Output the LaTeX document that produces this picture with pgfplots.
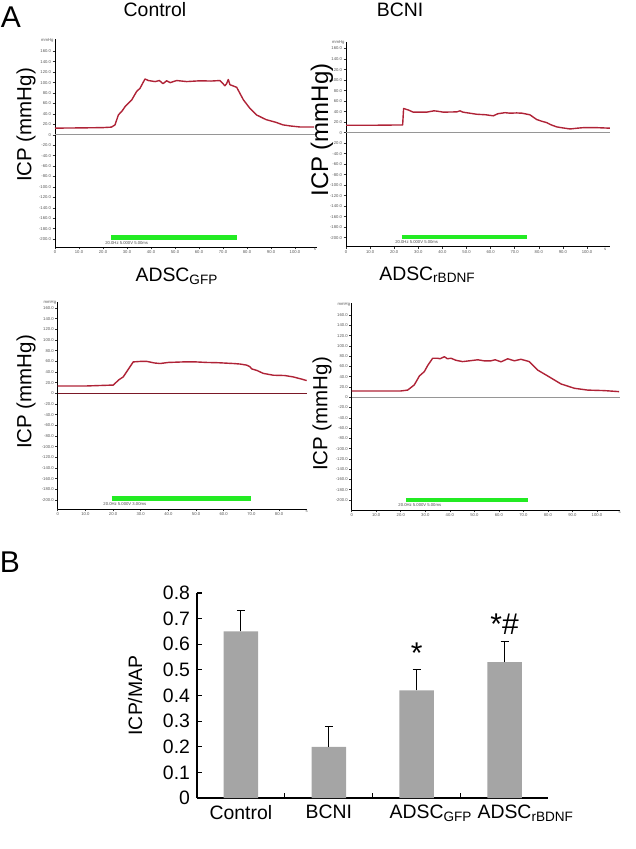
\documentclass[border=0pt]{standalone}
\usepackage{fontspec}
\setmainfont{Liberation Sans}
\usepackage{pgfplots}
\pgfplotsset{compat=1.18}

\definecolor{icpred}{RGB}{175,35,55}
\definecolor{stimgreen}{RGB}{35,235,35}
\definecolor{zerogray}{RGB}{150,150,150}
\definecolor{bargray}{RGB}{165,165,165}

\newcommand{\tinyfont}{\fontsize{2.1bp}{2.5bp}\selectfont}
\newcommand{\titlefont}{\fontsize{9.7bp}{11bp}\selectfont}

\pgfplotsset{
  /pgf/number format/assume math mode=true,
  icp/.style={
    scale only axis, clip=false,
    axis x line=bottom, axis y line=left,
    axis line style={-, black, line width=0.45bp},
    tick align=outside, major tick length=1.2bp,
    every tick/.style={black!80, line width=0.3bp},
    ytick={-200,-180,...,160},
    yticklabels={-200.0,-180.0,-160.0,-140.0,-120.0,-100.0,-80.0,-60.0,-40.0,-20.0,0,20.0,40.0,60.0,80.0,100.0,120.0,140.0,160.0},
    ticklabel style={font=\tinyfont, text=black!65, inner sep=0.6bp},
  },
  icpcurve/.style={icpred, line width=0.7bp, line join=round},
  zeroline/.style={zerogray, line width=0.6bp},
  stim/.style={stimgreen, line width=2.2bp},
}

\begin{document}
\begin{tikzpicture}
\useasboundingbox (0,0) rectangle (318bp,-424.5bp);

% ---------------- Panel A: Control
\begin{axis}[icp, at={(27.5bp,-123.5bp)}, anchor=south west,
  width=130.8bp, height=103.85bp,
  xmin=0, xmax=109, ymin=-215, ymax=183,
  xtick={0,10,...,100},
  xticklabels={0,10.0,20.0,30.0,40.0,50.0,60.0,70.0,80.0,90.0,100.0}]
\addplot[zeroline] coordinates {(0,0) (109,0)};
\addplot[icpcurve] coordinates {(0,12.8) (10,13.2) (20,13.8) (23.5,14.7) (25,19) (26.4,38) (28,46) (29.2,54) (32,67) (34,83) (35.4,89) (37.5,107) (38.9,104) (41.7,102) (43.5,104) (45,98) (46.5,103.5) (48,100) (50.7,104) (54.9,102) (60.4,103.5) (65,103) (68.75,104) (70.8,94) (71.5,98) (72.2,106) (72.9,96) (75.7,91) (78.5,67) (81,52) (84,38) (88,29) (92,24) (95,19) (98,17) (102,15) (108,15)};
\addplot[stim] coordinates {(23.3,-197) (76,-197)};
\node[font=\tinyfont, text=black!70, anchor=west, inner sep=0pt] at (axis cs:20.8,-207) {20.0Hz 5.000V 5.00ms};
\node[font=\tinyfont, text=black!65, anchor=east, inner sep=0.6bp] at (axis cs:0,180) {mmHg};
\node[font=\tinyfont, text=black!65, anchor=north, inner sep=0.6bp] at (axis cs:108.3,-215) {s};
\end{axis}

% ---------------- Panel A: BCNI
\begin{axis}[icp, at={(173bp,-123.35bp)}, anchor=south west,
  width=131.95bp, height=102.5bp,
  xmin=0, xmax=109.5, ymin=-217, ymax=173,
  xtick={0,10,...,100},
  xticklabels={0,10.0,20.0,30.0,40.0,50.0,60.0,70.0,80.0,90.0,100.0}]
\addplot[zeroline] coordinates {(0,0) (109.5,0)};
\addplot[icpcurve] coordinates {(0,14) (10,14) (20,14.5) (23.5,14.5) (23.9,46) (25.9,43) (27.9,39) (33.5,39) (36.5,41.5) (37.6,41) (40.4,39) (46,39.5) (47.3,41.5) (48.5,39) (54.2,35) (58,34) (61.1,32) (63,36) (66,38) (68,37) (70.8,37.5) (73,37) (76.3,34) (79.1,25) (81,22) (83.3,19) (85,15) (87.4,11) (90,9) (93,7) (96,8.5) (98.5,9.5) (104,9.5) (109.5,8.5)};
\addplot[stim] coordinates {(23.1,-198) (75.2,-198)};
\node[font=\tinyfont, text=black!70, anchor=west, inner sep=0pt] at (axis cs:20.3,-207.6) {20.0Hz 5.000V 5.00ms};
\node[font=\tinyfont, text=black!65, anchor=east, inner sep=0.6bp] at (axis cs:0,171) {mmHg};
\node[font=\tinyfont, text=black!65, anchor=north, inner sep=0.6bp] at (axis cs:107.5,-217) {s};
\end{axis}

% ---------------- Panel A: ADSC GFP
\begin{axis}[icp, at={(28.85bp,-254.5bp)}, anchor=south west,
  width=124.5bp, height=103.65bp,
  xmin=0, xmax=90, ymin=-217, ymax=172,
  xtick={0,10,...,80},
  xticklabels={0,10.0,20.0,30.0,40.0,50.0,60.0,70.0,80.0}]
\addplot[zeroline, draw=icpred!70!black] coordinates {(0,0) (90,0)};
\addplot[icpcurve] coordinates {(0,13.75) (10,13.8) (20.1,15.6) (22,25) (23.7,31) (25.5,45) (27.3,59) (30,60) (32.2,60) (35,57) (37,56) (40,58) (45.4,59) (50,59) (53.9,58) (58,57.5) (63.5,56) (66,55) (68.3,53) (69.5,50) (70.1,46) (72,43) (74.3,37.5) (78,34) (82,33.5) (85,31) (88,27) (90,24)};
\addplot[stim] coordinates {(19.5,-197) (69.9,-197)};
\node[font=\tinyfont, text=black!70, anchor=west, inner sep=0pt] at (axis cs:16.4,-207.6) {20.0Hz 5.000V 3.00ms};
\node[font=\tinyfont, text=black!65, anchor=east, inner sep=0.6bp] at (axis cs:0,170) {mmHg};
\node[font=\tinyfont, text=black!65, anchor=north, inner sep=0.6bp] at (axis cs:90,-217) {s};
\end{axis}

% ---------------- Panel A: ADSC rBDNF
\begin{axis}[icp, at={(175.85bp,-255bp)}, anchor=south west,
  width=134.3bp, height=103.35bp,
  xmin=0, xmax=109.5, ymin=-219.5, ymax=183,
  xtick={0,10,...,100},
  xticklabels={0,10.0,20.0,30.0,40.0,50.0,60.0,70.0,80.0,90.0,100.0}]
\addplot[zeroline] coordinates {(0,0) (109.5,0)};
\addplot[icpcurve] coordinates {(0,12.3) (10,12.3) (20,12.3) (22.8,14) (25.5,24) (27.6,41.5) (29.6,50) (31,62) (33,76) (35,76) (36,75) (37.8,79) (39,75) (40.5,76) (42.5,72) (45.2,69.5) (48,71) (51.4,73) (54,71) (56.8,71) (58.5,73) (60.9,69) (63.6,75) (66.3,71) (69,74) (72.4,69.5) (75.8,53) (79.9,41.5) (85.3,26) (90.8,17.5) (96.2,14) (103,13) (109,11)};
\addplot[stim] coordinates {(22.1,-200) (71.7,-200)};
\node[font=\tinyfont, text=black!70, anchor=west, inner sep=0pt] at (axis cs:18.9,-210) {20.0Hz 5.000V 5.00ms};
\node[font=\tinyfont, text=black!65, anchor=east, inner sep=0.6bp] at (axis cs:0,181) {mmHg};
\node[font=\tinyfont, text=black!65, anchor=north, inner sep=0.6bp] at (axis cs:109.2,-219.5) {s};
\end{axis}

% ---------------- Panel B: bar chart
\begin{axis}[at={(98.5bp,-399bp)}, anchor=south west,
  scale only axis, width=175.75bp, height=102.5bp,
  xmin=-0.5, xmax=3.5, ymin=0, ymax=0.8,
  axis x line=bottom, axis y line=left,
  axis line style={-, black, line width=0.8bp},
  tick align=inside, major tick length=2.5bp,
  every tick/.style={black, line width=0.6bp},
  xtick={0.5,1.5,2.5}, xticklabels={},
  extra x ticks={0,1,2,3},
  extra x tick labels={Control,BCNI,ADSC\rlap{\textsubscript{GFP}},ADSC\rlap{\textsubscript{rBDNF}}},
  extra x tick style={major tick length=0pt},
  ytick={0,0.1,0.2,0.3,0.4,0.5,0.6,0.7,0.8},
  yticklabels={0,0.1,0.2,0.3,0.4,0.5,0.6,0.7,0.8},
  ticklabel style={font=\titlefont, text=black},
  ylabel={ICP/MAP},
  ylabel style={font=\titlefont, at={(axis description cs:-0.176,0.5)}, anchor=center},
  clip=false]
\addplot[ybar, bar width=17.25bp, fill=bargray, draw=none,
  error bars/.cd, y dir=plus, y explicit,
  error bar style={black, line width=0.5bp},
  error mark options={rotate=90, mark size=2bp, black, line width=0.5bp}]
  coordinates {(0,0.65) +- (0,0.08) (1,0.20) +- (0,0.08) (2,0.42) +- (0,0.08) (3,0.53) +- (0,0.08)};
\node[font=\fontsize{15bp}{16bp}\selectfont, inner sep=0pt] at (axis cs:2,0.565) {*};
\node[font=\fontsize{15bp}{16bp}\selectfont, inner sep=0pt] at (axis cs:3,0.68) {*\#};
\end{axis}

% ---------------- Titles and labels
\node[font=\fontsize{15bp}{16bp}\selectfont, anchor=center] at (5.5bp,-8.5bp) {A};
\node[font=\fontsize{15bp}{16bp}\selectfont, anchor=center] at (5bp,-281bp) {B};
\node[font=\titlefont, anchor=base] at (77.5bp,-8.3bp) {Control};
\node[font=\titlefont, anchor=base] at (200bp,-8.3bp) {BCNI};
\node[font=\titlefont, anchor=base] at (88.5bp,-140.8bp) {ADSC\textsubscript{GFP}};
\node[font=\titlefont, anchor=base] at (213.75bp,-140bp) {ADSC\textsubscript{rBDNF}};
\node[font=\fontsize{10.25bp}{11bp}\selectfont, rotate=90, anchor=center] at (13bp,-62.5bp) {ICP (mmHg)};
\node[font=\fontsize{12bp}{13bp}\selectfont, rotate=90, anchor=center] at (161bp,-65bp) {ICP (mmHg)};
\node[font=\fontsize{10.25bp}{11bp}\selectfont, rotate=90, anchor=center] at (13bp,-196bp) {ICP (mmHg)};
\node[font=\fontsize{10.25bp}{11bp}\selectfont, rotate=90, anchor=center] at (161bp,-207bp) {ICP (mmHg)};
\end{tikzpicture}
\end{document}
